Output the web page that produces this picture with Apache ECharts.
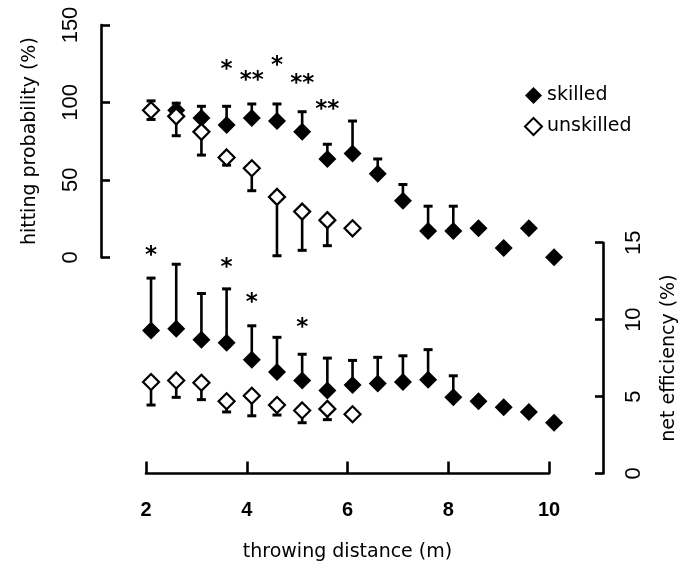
<!DOCTYPE html>
<html>
<head>
<meta charset="utf-8">
<script src="https://cdn.jsdelivr.net/npm/echarts@6/dist/echarts.min.js"></script>
<style>
    html, body { margin: 0; padding: 0; background: #fff; }
    #main { width: 693px; height: 563px; }
</style>
</head>
<body>
<div id="main"></div>
<script>
// throwing distance (m)
var distance = [2.1, 2.6, 3.1, 3.6, 4.1, 4.6, 5.1, 5.6, 6.1, 6.6, 7.1, 7.6, 8.1, 8.6, 9.1, 9.6, 10.1];
var distanceUnskilled = [2.1, 2.6, 3.1, 3.6, 4.1, 4.6, 5.1, 5.6, 6.1];

// hitting probability (%) + SD (skilled: bar up, unskilled: bar down)
var skilledHit = [95, 95, 90, 85.5, 90, 88, 81, 63.5, 67, 54, 36.5, 17, 17, 18.7, 6, 18.7, 0];
var skilledHitSd = [6, 4.5, 7.5, 12, 9, 11, 13, 9.5, 21, 9.5, 10.5, 16, 16, 0, 0, 0, 0];
var unskilledHit = [95, 91, 81, 64.5, 57.5, 39, 29.5, 24, 18.7];
var unskilledHitSd = [6, 12.5, 15, 5, 14.5, 38, 25, 16.5, 0];

// net efficiency (%) + SD
var skilledEff = [9.3, 9.4, 8.7, 8.5, 7.4, 6.6, 6.05, 5.4, 5.75, 5.85, 5.95, 6.1, 4.95, 4.7, 4.3, 4.0, 3.3];
var skilledEffSd = [3.4, 4.2, 3.0, 3.5, 2.2, 2.25, 1.7, 2.1, 1.6, 1.7, 1.7, 1.95, 1.4, 0, 0, 0, 0];
var unskilledEff = [5.95, 6.05, 5.9, 4.7, 5.05, 4.45, 4.1, 4.2, 3.85];
var unskilledEffSd = [1.5, 1.1, 1.1, 0.7, 1.3, 0.65, 0.8, 0.7, 0];

// significance marks: distance, height (axis units), text
var hitStarX = [3.6, 4.1, 4.6, 5.1, 5.6];
var hitStarY = [124, 117, 126.5, 115, 98.5];
var hitStarText = ['*', '**', '*', '**', '**'];
var effStarX = [2.1, 3.6, 4.1, 5.1];
var effStarY = [14.45, 13.7, 11.4, 9.8];
var effStarText = ['*', '*', '*', '*'];

var chartDom = document.getElementById('main');
var myChart = echarts.init(chartDom);
var option;

var textFont = 'DejaVu Sans';
var numFont = 'Liberation Sans';

function pairs(xs, ys, sds) {
    var out = [];
    for (var i = 0; i < ys.length; i++) {
        out.push(sds ? [xs[i], ys[i], sds[i]] : [xs[i], ys[i]]);
    }
    return out;
}

function errorSeries(xs, ys, sds, dir, idx) {
    return {
        type: 'custom',
        xAxisIndex: idx,
        yAxisIndex: idx,
        silent: true,
        clip: false,
        encode: { x: 0, y: 1 },
        data: pairs(xs, ys, sds),
        renderItem: function(params, api) {
            var sd = api.value(2);
            if (!sd) {
                return { type: 'group', children: [] };
            }
            var p0 = api.coord([api.value(0), api.value(1)]);
            var p1 = api.coord([api.value(0), api.value(1) + dir * sd]);
            return {
                type: 'group',
                children: [{
                        type: 'line',
                        shape: { x1: p0[0], y1: p0[1], x2: p1[0], y2: p1[1] },
                        style: { stroke: '#000', lineWidth: 2.6 }
                    },
                    {
                        type: 'line',
                        shape: { x1: p1[0] - 4.5, y1: p1[1], x2: p1[0] + 4.5, y2: p1[1] },
                        style: { stroke: '#000', lineWidth: 3 }
                    }
                ]
            };
        }
    };
}

function starSeries(xs, ys, texts, idx) {
    return {
        type: 'custom',
        xAxisIndex: idx,
        yAxisIndex: idx,
        silent: true,
        clip: false,
        encode: { x: 0, y: 1 },
        data: pairs(xs, ys),
        renderItem: function(params, api) {
            var p = api.coord([api.value(0), api.value(1)]);
            return {
                type: 'text',
                x: p[0],
                y: p[1] + 5,
                style: {
                    text: texts[params.dataIndex],
                    fill: '#000',
                    font: 'bold 23px "' + textFont + '"',
                    align: 'center',
                    verticalAlign: 'middle'
                }
            };
        }
    };
}

var skilledStyle = { color: '#000', opacity: 1 };
var unskilledStyle = { color: '#fff', borderColor: '#000', borderWidth: 2.2, opacity: 1 };

var axisLine = { show: true, lineStyle: { color: '#000', width: 2.6 } };

option = {
    backgroundColor: '#fff',
    animation: false,
    legend: {
        data: ['skilled', 'unskilled'],
        orient: 'vertical',
        left: 524,
        top: 86,
        padding: 0,
        icon: 'diamond',
        itemWidth: 17,
        itemHeight: 17,
        itemGap: 12,
        selectedMode: false,
        textStyle: { fontFamily: textFont, fontSize: 19, color: '#000' }
    },
    grid: [
        { left: 146, top: 25, width: 403, height: 232.3 },
        { left: 146, top: 242.7, width: 403, height: 232.3 }
    ],
    xAxis: [{
            gridIndex: 0,
            type: 'value',
            min: 2,
            max: 10,
            show: false
        },
        {
            gridIndex: 1,
            type: 'value',
            min: 2,
            max: 10,
            interval: 2,
            offset: 10.5,
            axisLine: axisLine,
            axisTick: { inside: true, length: 12, lineStyle: { color: '#000', width: 2.6 } },
            axisLabel: { margin: 16, color: '#000', fontFamily: numFont, fontSize: 20, fontWeight: 'bold' },
            splitLine: { show: false },
            name: 'throwing distance (m)',
            nameLocation: 'middle',
            nameGap: 59,
            nameTextStyle: { fontFamily: textFont, fontSize: 19, color: '#000' }
        }
    ],
    yAxis: [{
            gridIndex: 0,
            type: 'value',
            min: 0,
            max: 150,
            interval: 50,
            position: 'left',
            offset: 45,
            axisLine: axisLine,
            axisTick: { inside: true, length: 9, lineStyle: { color: '#000', width: 2.6 } },
            axisLabel: { rotate: 90, margin: 19, color: '#000', fontFamily: numFont, fontSize: 22 },
            splitLine: { show: false },
            name: 'hitting probability (%)',
            nameLocation: 'middle',
            nameRotate: 90,
            nameGap: 61,
            nameTextStyle: { fontFamily: textFont, fontSize: 19, color: '#000' }
        },
        {
            gridIndex: 1,
            type: 'value',
            min: 0,
            max: 15,
            interval: 5,
            position: 'right',
            offset: 54,
            axisLine: axisLine,
            axisTick: { inside: true, length: 8, lineStyle: { color: '#000', width: 2.6 } },
            axisLabel: { rotate: 90, margin: 20, color: '#000', fontFamily: numFont, fontSize: 22 },
            splitLine: { show: false },
            name: 'net efficiency (%)',
            nameLocation: 'middle',
            nameRotate: 90,
            nameGap: 57,
            nameTextStyle: { fontFamily: textFont, fontSize: 19, color: '#000' }
        }
    ],
    series: [
        errorSeries(distance, skilledHit, skilledHitSd, 1, 0),
        errorSeries(distanceUnskilled, unskilledHit, unskilledHitSd, -1, 0),
        errorSeries(distance, skilledEff, skilledEffSd, 1, 1),
        errorSeries(distanceUnskilled, unskilledEff, unskilledEffSd, -1, 1),
        {
            name: 'skilled',
            type: 'scatter',
            xAxisIndex: 0,
            yAxisIndex: 0,
            clip: false,
            symbol: 'diamond',
            symbolSize: 18,
            itemStyle: skilledStyle,
            data: pairs(distance, skilledHit)
        },
        {
            name: 'unskilled',
            type: 'scatter',
            xAxisIndex: 0,
            yAxisIndex: 0,
            clip: false,
            symbol: 'diamond',
            symbolSize: 16,
            itemStyle: unskilledStyle,
            data: pairs(distanceUnskilled, unskilledHit)
        },
        {
            name: 'skilled',
            type: 'scatter',
            xAxisIndex: 1,
            yAxisIndex: 1,
            clip: false,
            symbol: 'diamond',
            symbolSize: 18,
            itemStyle: skilledStyle,
            data: pairs(distance, skilledEff)
        },
        {
            name: 'unskilled',
            type: 'scatter',
            xAxisIndex: 1,
            yAxisIndex: 1,
            clip: false,
            symbol: 'diamond',
            symbolSize: 16,
            itemStyle: unskilledStyle,
            data: pairs(distanceUnskilled, unskilledEff)
        },
        starSeries(hitStarX, hitStarY, hitStarText, 0),
        starSeries(effStarX, effStarY, effStarText, 1)
    ]
};

myChart.setOption(option);
</script>
</body>
</html>
